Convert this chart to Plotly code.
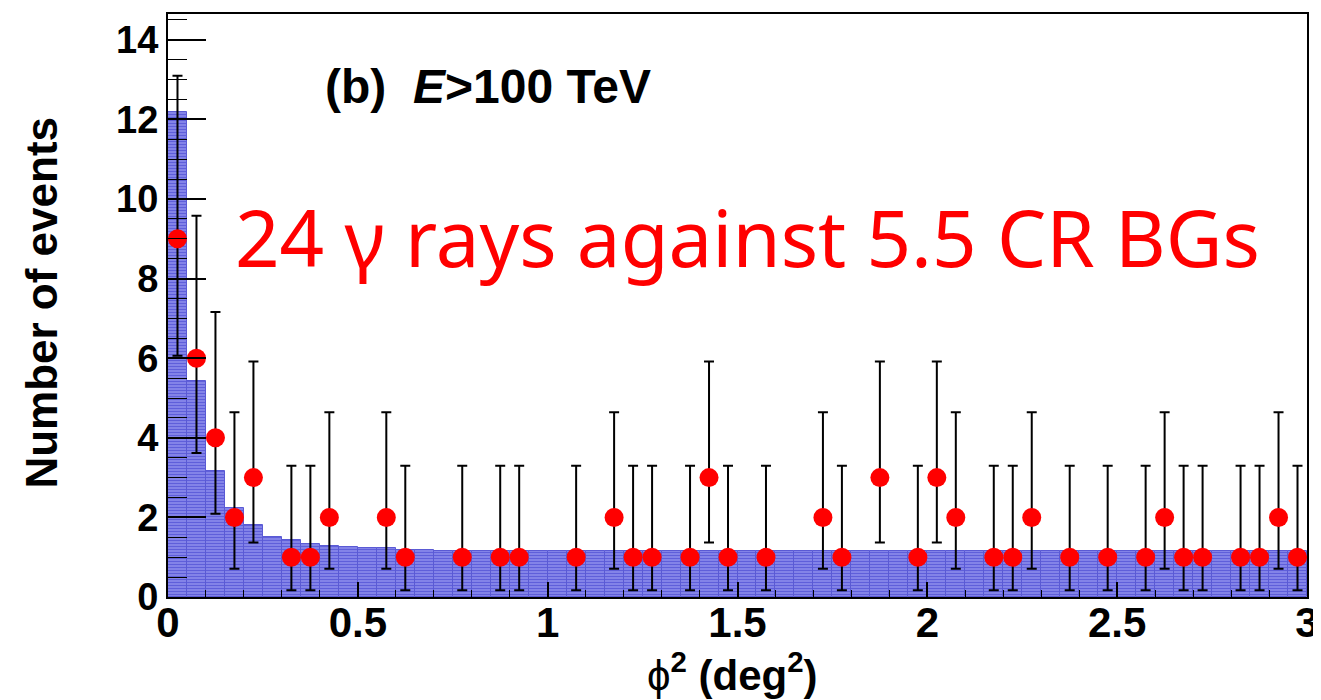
import plotly.graph_objects as go

# ---------------- data ----------------
# bin centres of the observed points (deg^2)
x_points = [0.025, 0.075, 0.125, 0.175, 0.225, 0.325, 0.375, 0.425, 0.575, 0.625,
            0.775, 0.875, 0.925, 1.075, 1.175, 1.225, 1.275, 1.375, 1.425, 1.475,
            1.575, 1.725, 1.775, 1.875, 1.975, 2.025, 2.075, 2.175, 2.225, 2.275,
            2.375, 2.475, 2.575, 2.625, 2.675, 2.725, 2.825, 2.875, 2.925, 2.975]
counts = [9, 6, 4, 2, 3, 1, 1, 2, 2, 1,
          1, 1, 1, 1, 2, 1, 1, 1, 3, 1,
          1, 2, 1, 3, 1, 3, 2, 1, 1, 2,
          1, 1, 1, 2, 1, 1, 1, 1, 2, 1]

# Poisson error-bar ends: count -> (lower end, upper end)
err_low_end = {1: 0.17, 2: 0.71, 3: 1.37, 4: 2.09, 6: 3.62, 9: 6.06}
err_high_end = {1: 3.30, 2: 4.64, 3: 5.92, 4: 7.16, 6: 9.58, 9: 13.10}

# background (CR) histogram, 0.05 deg^2 bins from 0 to 3
bg_centres = [0.025 + 0.05 * i for i in range(60)]
bg_values = [12.2, 5.43, 3.16, 2.23, 1.82, 1.52, 1.42, 1.32, 1.28, 1.26,
             1.23, 1.22, 1.18, 1.17, 1.16, 1.16, 1.16, 1.16, 1.16, 1.16,
             1.16, 1.16, 1.16, 1.16, 1.16, 1.16, 1.16, 1.16, 1.16, 1.16,
             1.16, 1.16, 1.16, 1.16, 1.16, 1.16, 1.16, 1.16, 1.16, 1.16,
             1.16, 1.16, 1.16, 1.16, 1.16, 1.16, 1.16, 1.16, 1.16, 1.16,
             1.16, 1.16, 1.16, 1.16, 1.16, 1.16, 1.16, 1.16, 1.16, 1.16]

x_tick_vals = [0, 0.5, 1, 1.5, 2, 2.5, 3]
x_tick_text = ["0", "0.5", "1", "1.5", "2", "2.5", "3"]
y_tick_vals = [0, 2, 4, 6, 8, 10, 12, 14]

err_plus = [err_high_end[c] - c for c in counts]
err_minus = [c - err_low_end[c] for c in counts]

FONT = "Liberation Sans, Arial, Helvetica, sans-serif"

fig = go.Figure()

fig.add_trace(go.Bar(
    x=bg_centres, y=bg_values, width=0.05,
    marker=dict(
        color="#9494ee",
        line=dict(color="#5a5ad4", width=1),
        pattern=dict(shape="-", fgcolor="#2a2ac6", bgcolor="#9494ee",
                     size=3, solidity=0.55, fillmode="overlay"),
    ),
    hoverinfo="skip", showlegend=False,
))

fig.add_trace(go.Scatter(
    x=x_points, y=counts, mode="markers",
    marker=dict(color="#ff0000", size=19, line=dict(width=0)),
    error_y=dict(type="data", symmetric=False, array=err_plus, arrayminus=err_minus,
                 color="black", thickness=2, width=5),
    showlegend=False,
))

# the page body adds an 8px offset; the figure is sized so the plot frame lands
# at x 168..1307, y 14..597 in the 1321x700 window
fig.update_layout(
    width=1313, height=692,
    margin=dict(l=160, r=14, t=6, b=103, autoexpand=False),
    paper_bgcolor="white", plot_bgcolor="white",
    bargap=0,
    xaxis=dict(range=[0, 3], tickvals=x_tick_vals, ticktext=x_tick_text,
               ticks="inside", ticklen=15, tickwidth=2, tickcolor="black",
               minor=dict(dtick=0.1, ticks="inside", ticklen=7, tickcolor="black", tickwidth=1),
               showline=True, linewidth=2, linecolor="black", mirror=True,
               showgrid=False, zeroline=False, ticklabeloverflow="allow",
               ticklabelstandoff=-12,
               tickfont=dict(family=FONT, size=42, color="black", weight="bold")),
    yaxis=dict(range=[0, 14.65], tickvals=y_tick_vals,
               ticks="inside", ticklen=38, tickwidth=2, tickcolor="black",
               minor=dict(dtick=0.5, ticks="inside", ticklen=19, tickcolor="black", tickwidth=1),
               showline=True, linewidth=2, linecolor="black", mirror=True,
               showgrid=False, zeroline=False, ticklabeloverflow="allow",
               tickfont=dict(family=FONT, size=38, color="black", weight="bold")),
    annotations=[
        dict(text="Number of events", xref="paper", yref="paper",
             x=-0.1106, y=0.505, xanchor="center", yanchor="middle", textangle=-90,
             showarrow=False, font=dict(family=FONT, size=44, color="black", weight="bold")),
        dict(text="<span style='font-weight:normal'>ϕ</span><sup>2</sup> (deg<sup>2</sup>)",
             xref="paper", yref="paper", x=0.496, y=-0.128,
             xanchor="center", yanchor="middle", showarrow=False,
             font=dict(family=FONT, size=42, color="black", weight="bold")),
        dict(text="(b)  <i>E</i>>100 TeV", xref="paper", yref="paper",
             x=0.136, y=0.8757, xanchor="left", yanchor="middle", showarrow=False,
             font=dict(family=FONT, size=48, color="black", weight="bold")),
        dict(text="24 γ rays against 5.5 CR BGs", xref="paper", yref="paper",
             x=0.509, y=0.618, xanchor="center", yanchor="middle", showarrow=False,
             font=dict(family="Noto Sans, Open Sans, sans-serif", size=78, color="#ff0000")),
    ],
)

fig.write_html("out.html")
